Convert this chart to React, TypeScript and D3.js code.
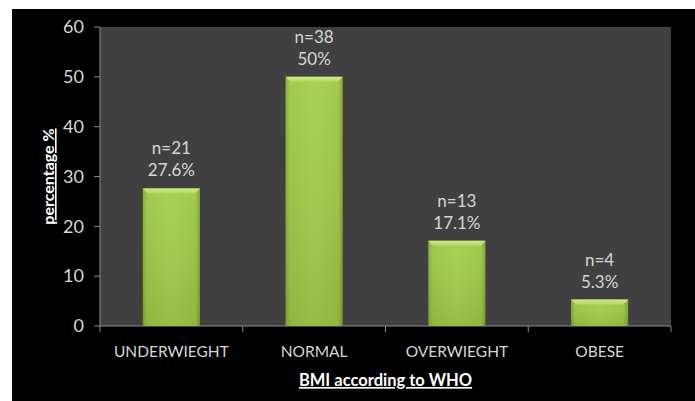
import React from "react";
import * as d3 from "d3";

const categories = ["UNDERWEIGHT", "NORMAL", "OVERWEIGHT", "OBESE"];
const displayLabels = ["UNDERWIEGHT", "NORMAL", "OVERWIEGHT", "OBESE"];
const percentages = [27.6, 50, 17.1, 5.3];
const counts = [21, 38, 13, 4];
const percentLabels = ["27.6%", "50%", "17.1%", "5.3%"];
const yTicks = [0, 10, 20, 30, 40, 50, 60];

const W = 695;
const H = 401;
const plot = { left: 100, right: 671, top: 27, bottom: 326 };
const FONT = "Lato, 'Open Sans', sans-serif";
const TEXT = "#d6d6d6";

export default function App() {
  const x = d3
    .scaleBand<string>()
    .domain(categories)
    .range([plot.left, plot.right])
    .paddingInner(0.6)
    .paddingOuter(0.3);
  const band = d3.scaleBand<string>().domain(categories).range([plot.left, plot.right]);
  const y = d3.scaleLinear().domain([0, 60]).range([plot.bottom, plot.top]);
  const bw = x.bandwidth();
  const bevel = 5;

  return (
    <svg
      width={W}
      height={H}
      style={{ position: "absolute", left: 0, top: 0, display: "block" }}
    >
      <defs>
        <linearGradient id="barH" x1="0" x2="1" y1="0" y2="0">
          <stop offset="0" stopColor="#86ad36" />
          <stop offset="0.08" stopColor="#9cc746" />
          <stop offset="0.5" stopColor="#a4cf4e" />
          <stop offset="0.92" stopColor="#9cc746" />
          <stop offset="1" stopColor="#7fa530" />
        </linearGradient>
        <linearGradient id="barTop" x1="0" x2="0" y1="0" y2="1">
          <stop offset="0" stopColor="#cfe98a" />
          <stop offset="1" stopColor="#b3d865" />
        </linearGradient>
        <linearGradient id="barV" x1="0" x2="0" y1="0" y2="1">
          <stop offset="0" stopColor="#ffffff" stopOpacity="0.05" />
          <stop offset="1" stopColor="#000000" stopOpacity="0.08" />
        </linearGradient>
      </defs>
      <rect x={0} y={0} width={W} height={H} fill="#ffffff" />
      <rect x={12} y={9} width={W - 12} height={H - 9} fill="#000000" />
      <rect
        x={plot.left}
        y={plot.top}
        width={plot.right - plot.left}
        height={plot.bottom - plot.top}
        fill="#404040"
      />
      {/* y axis */}
      <line x1={plot.left} x2={plot.left} y1={plot.top} y2={plot.bottom} stroke="#8c8c8c" strokeWidth={1} />
      {yTicks.map((t) => (
        <g key={t}>
          <line x1={plot.left - 6} x2={plot.left} y1={y(t)} y2={y(t)} stroke="#8c8c8c" />
          <text
            x={plot.left - 16}
            y={y(t)}
            dy="0.35em"
            textAnchor="end"
            fill={TEXT}
            fontFamily={FONT}
            fontSize={18}
          >
            {t}
          </text>
        </g>
      ))}
      {/* x axis */}
      <line x1={plot.left} x2={plot.right} y1={plot.bottom} y2={plot.bottom} stroke="#8c8c8c" />
      {categories.map((c) => (
        <line
          key={c}
          x1={(band(c) as number) + band.bandwidth()}
          x2={(band(c) as number) + band.bandwidth()}
          y1={plot.bottom}
          y2={plot.bottom + 6}
          stroke="#8c8c8c"
        />
      ))}
      <line x1={plot.left} x2={plot.left} y1={plot.bottom} y2={plot.bottom + 6} stroke="#8c8c8c" />
      {/* bars */}
      {categories.map((c, i) => {
        const x0 = x(c) as number;
        const yt = y(percentages[i]);
        const h = plot.bottom - yt;
        return (
          <g key={c}>
            <rect x={x0} y={yt} width={bw} height={h} fill="url(#barH)" />
            <rect x={x0} y={yt} width={bw} height={h} fill="url(#barV)" />
            <polygon
              points={`${x0},${yt} ${x0 + bw},${yt} ${x0 + bw - bevel},${yt + bevel} ${x0 + bevel},${yt + bevel}`}
              fill="url(#barTop)"
            />
            <text
              x={x0 + bw / 2}
              y={yt - 40}
              dy="0.35em"
              textAnchor="middle"
              fill={TEXT}
              fontFamily={FONT}
              fontSize={17}
            >
              {`n=${counts[i]}`}
            </text>
            <text
              x={x0 + bw / 2}
              y={yt - 18}
              dy="0.35em"
              textAnchor="middle"
              fill={TEXT}
              fontFamily={FONT}
              fontSize={17}
            >
              {percentLabels[i]}
            </text>
            <text
              x={(band(c) as number) + band.bandwidth() / 2}
              y={352}
              dy="0.35em"
              textAnchor="middle"
              fill={TEXT}
              fontFamily={FONT}
              fontSize={15.5}
            >
              {displayLabels[i]}
            </text>
          </g>
        );
      })}
      {/* axis titles */}
      <text
        x={(plot.left + plot.right) / 2}
        y={386}
        textAnchor="middle"
        fill="#ffffff"
        fontFamily={FONT}
        fontWeight="bold"
        fontSize={16.5}
        textDecoration="underline"
      >
        BMI according to WHO
      </text>
      <text
        transform={`translate(54, ${(plot.top + plot.bottom) / 2}) rotate(-90)`}
        textAnchor="middle"
        fill="#ffffff"
        fontFamily={FONT}
        fontWeight="bold"
        fontSize={16}
        textDecoration="underline"
      >
        percentage %
      </text>
    </svg>
  );
}
